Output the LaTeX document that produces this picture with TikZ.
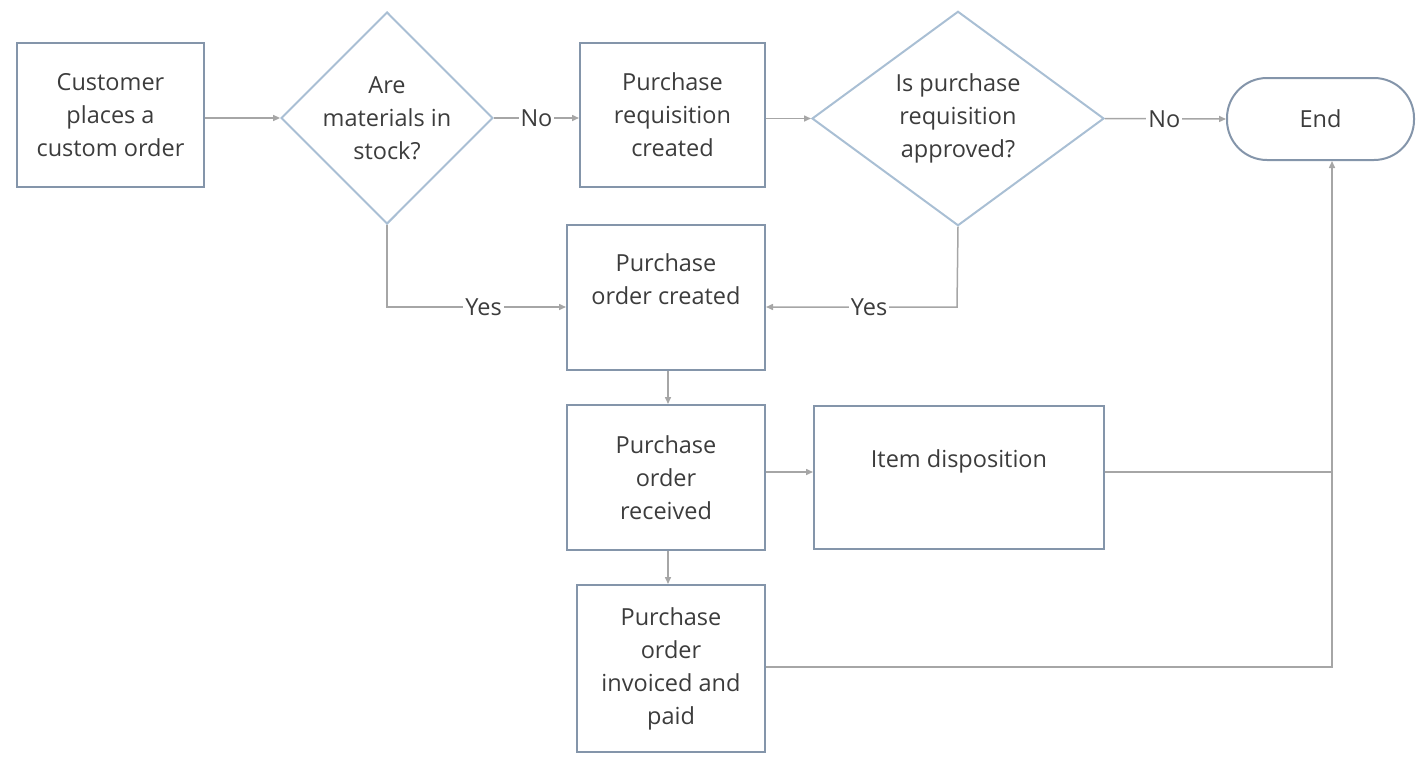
\documentclass[tikz,border=0pt]{standalone}
\usepackage{fontspec}
\setmainfont{Open Sans}
\usetikzlibrary{shapes.geometric,arrows.meta}

\definecolor{boxline}{HTML}{8495AA}
\definecolor{diamline}{HTML}{A9BFD4}
\definecolor{linkgray}{HTML}{A6A6A6}
\definecolor{txtgray}{HTML}{3C3C3C}

\tikzset{every picture/.style={line width=1.5pt}}
\tikzset{
  stepbox/.style={draw=boxline, line width=2pt, text=txtgray, align=center, inner sep=0pt,
    font=\fontsize{23.5}{33}\selectfont},
  decision/.style={diamond, draw=diamline, line width=2pt, text=txtgray, align=center, inner sep=0pt,
    font=\fontsize{23.5}{33}\selectfont},
  terminal/.style={draw=boxline, line width=2pt, rounded corners=40pt, text=txtgray, inner sep=0pt,
    font=\fontsize{23.5}{33}\selectfont},
  link/.style={draw=linkgray, line width=1.5pt, -{Triangle[length=7pt,width=6pt]}},
  plainlink/.style={draw=linkgray, line width=1.5pt},
  answer/.style={fill=white, text=txtgray, inner sep=2pt, font=\fontsize{23.5}{28}\selectfont}
}

\begin{document}
\begin{tikzpicture}[x=1pt,y=1pt,yscale=-1,xscale=1]
	\useasboundingbox (0,0) rectangle (1417,758);

	% Boxes
	\node [stepbox, minimum width=187, minimum height=144] (cust) at (110.5,115) {Customer\\places a\\custom order};
	\node [decision, minimum width=210, minimum height=212] (stock) at (387,118) {Are\\materials in\\stock?};
	\node [stepbox, minimum width=185, minimum height=144] (preq) at (672.5,115) {Purchase\\requisition\\created};
	\node [decision, minimum width=292, minimum height=213] (appr) at (958,118.5) {Is purchase\\requisition\\approved?};
	\node [terminal, minimum width=187, minimum height=82] (end) at (1320.5,119) {End};
	\node [stepbox, minimum width=198, minimum height=145] (pocr) at (666,297.5) {Purchase\\order created\\[4pt]};
	\node [stepbox, minimum width=198, minimum height=145] (porc) at (666,477.5) {Purchase\\order\\received};
	\node [stepbox, minimum width=290, minimum height=143] (disp) at (959,477) {Item disposition\\[4pt]};
	\node [stepbox, minimum width=188, minimum height=167] (inv) at (671,668.5) {Purchase\\order\\invoiced and\\paid};

	% Free ends
	\coordinate (join) at (1332,472);
	\coordinate (yesl) at (387,307);
	\coordinate (yesr) at (957,307);

	% Connectors
	\draw [link] (cust.east |- stock.west) -- (stock.west);
	\draw [link] (stock.east) -- node [answer] {No} (preq.west |- stock.east);
	\draw [link] (preq.east |- appr.west) -- (appr.west);
	\draw [link] (appr.east) -- node [answer, pos=0.49] {No} (end.west);
	\draw [link] (stock.south) -- (yesl) -- node [answer, pos=0.54] {Yes} (pocr.west |- yesl);
	\draw [link] (appr.south) -- (yesr) -- node [answer, pos=0.46] {Yes} (pocr.east |- yesr);
	\draw [link] (pocr.south -| 668,0) -- (porc.north -| 668,0);
	\draw [link] (porc.east |- join) -- (disp.west |- join);
	\draw [link] (porc.south -| 668,0) -- (inv.north -| 668,0);
	\draw [plainlink] (disp.east |- join) -- (join);
	\draw [link] (inv.east |- 0,667) -- (1332,667) -- (end.south -| join);

\end{tikzpicture}
\end{document}
